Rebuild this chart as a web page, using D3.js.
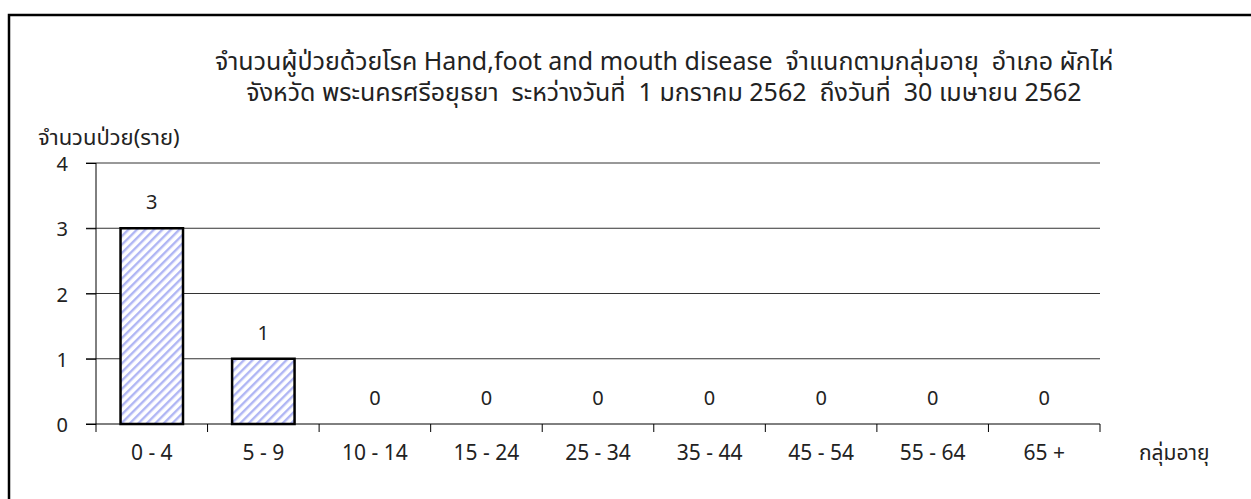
<!DOCTYPE html>
<html>
<head>
<meta charset="utf-8">
<script src="https://cdn.jsdelivr.net/npm/d3@7"></script>
<style>
  body { margin: 0; background: #fff; }
  svg text { font-family: "Noto Sans", "Noto Sans Thai", sans-serif; fill: #222; white-space: pre; }
</style>
</head>
<body>
<svg width="1251" height="499"></svg>
<script>
// data
var ageGroups = ['0 - 4', '5 - 9', '10 - 14', '15 - 24', '25 - 34', '35 - 44', '45 - 54', '55 - 64', '65 +'];
var patients = [3, 1, 0, 0, 0, 0, 0, 0, 0];
var yTicks = [0, 1, 2, 3, 4];
var titleLines = [
    'จำนวนผู้ป่วยด้วยโรค Hand,foot and mouth disease  จำแนกตามกลุ่มอายุ  อำเภอ ผักไห่',
    'จังหวัด พระนครศรีอยุธยา  ระหว่างวันที่  1 มกราคม 2562  ถึงวันที่  30 เมษายน 2562'
];

var svg = d3.select('svg');
var svgWidth = +svg.attr('width');
var svgHeight = +svg.attr('height');

var plot = {l: 96, r: 1100, t: 163, b: 424};

// hatch pattern for bars
var defs = svg.append('defs');
var pat = defs.append('pattern')
    .attr('id', 'hatch')
    .attr('patternUnits', 'userSpaceOnUse')
    .attr('width', 6)
    .attr('height', 6)
    .attr('patternTransform', 'rotate(45)');
pat.append('rect').attr('width', 6).attr('height', 6).attr('fill', '#fff');
pat.append('rect').attr('width', 2.4).attr('height', 6).attr('fill', '#b0b6f4');

// outer frame
svg.append('rect')
    .attr('x', 9).attr('y', 15)
    .attr('width', svgWidth + 20).attr('height', svgHeight + 20)
    .attr('fill', 'none')
    .attr('stroke', '#000')
    .attr('stroke-width', 2.5);

// titles
svg.selectAll('.title')
    .data(titleLines)
    .enter().append('text')
    .attr('class', 'title')
    .attr('text-anchor', 'middle')
    .attr('x', 664)
    .attr('y', function(d, i) { return 70 + i * 31; })
    .style('font-size', '25px')
    .text(function(d) { return d; });

var x = d3.scaleBand()
    .domain(ageGroups)
    .range([plot.l, plot.r])
    .paddingInner(0.44)
    .paddingOuter(0.22);

var y = d3.scaleLinear()
    .domain([0, 4])
    .range([plot.b, plot.t]);

// gridlines
svg.append('g')
    .selectAll('line')
    .data(yTicks.filter(function(d) { return d > 0; }))
    .enter().append('line')
    .attr('x1', plot.l - 10).attr('x2', plot.r)
    .attr('y1', function(d) { return y(d); })
    .attr('y2', function(d) { return y(d); })
    .attr('stroke', '#333')
    .attr('stroke-width', 1);

// y axis
var yAxis = svg.append('g')
    .attr('transform', 'translate(' + plot.l + ',0)')
    .call(d3.axisLeft(y).tickValues(yTicks).tickFormat(d3.format('d')).tickSize(10).tickPadding(18));
yAxis.select('.domain').attr('d', 'M0,' + plot.t + 'V' + (plot.b + 8));
yAxis.selectAll('text').style('font-size', '20px').attr('dy', '0.38em');

// bars
svg.append('g')
    .selectAll('rect')
    .data(patients)
    .enter().append('rect')
    .attr('x', function(d, i) { return x(ageGroups[i]); })
    .attr('y', function(d) { return y(d); })
    .attr('width', x.bandwidth())
    .attr('height', function(d) { return y(0) - y(d); })
    .attr('fill', 'url(#hatch)')
    .attr('stroke', '#000')
    .attr('stroke-width', function(d) { return d > 0 ? 2.5 : 0; });

// x axis with ticks at category boundaries
var step = (plot.r - plot.l) / ageGroups.length;
var xb = svg.append('g');
xb.append('line')
    .attr('x1', plot.l - 10).attr('x2', plot.r)
    .attr('y1', plot.b).attr('y2', plot.b)
    .attr('stroke', '#000');
xb.selectAll('.tk')
    .data(d3.range(1, ageGroups.length + 1))
    .enter().append('line')
    .attr('class', 'tk')
    .attr('x1', function(d) { return plot.l + d * step; })
    .attr('x2', function(d) { return plot.l + d * step; })
    .attr('y1', plot.b).attr('y2', plot.b + 8)
    .attr('stroke', '#000');
xb.selectAll('text')
    .data(ageGroups)
    .enter().append('text')
    .attr('text-anchor', 'middle')
    .attr('x', function(d) { return x(d) + x.bandwidth() / 2; })
    .attr('y', 460)
    .style('font-size', '21px')
    .text(function(d) { return d; });

// value labels
svg.append('g')
    .selectAll('text')
    .data(patients)
    .enter().append('text')
    .attr('text-anchor', 'middle')
    .attr('x', function(d, i) { return x(ageGroups[i]) + x.bandwidth() / 2; })
    .attr('y', function(d) { return y(d) - 19; })
    .style('font-size', '20px')
    .text(function(d) { return d; });

// axis titles
svg.append('text')
    .attr('x', 38).attr('y', 145)
    .style('font-size', '22px')
    .text('จำนวนป่วย(ราย)');
svg.append('text')
    .attr('x', 1139).attr('y', 460)
    .style('font-size', '21px')
    .text('กลุ่มอายุ');
</script>
</body>
</html>
